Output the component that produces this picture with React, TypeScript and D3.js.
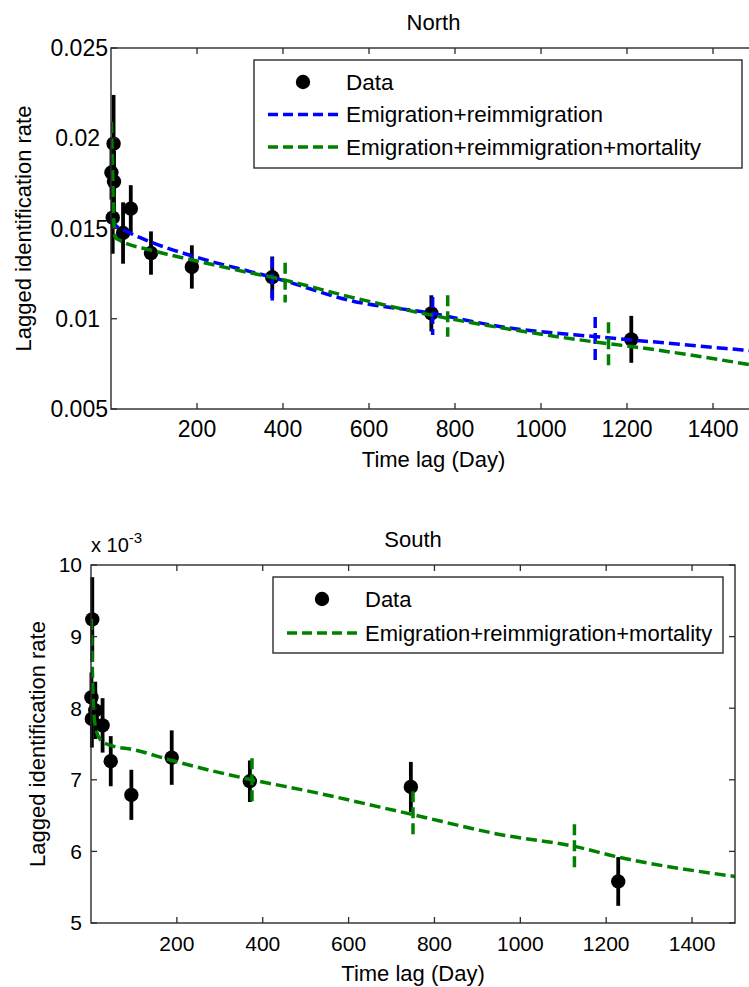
import React from "react";
import * as d3 from "d3";

// ---------- North panel data ----------
const northDays = [6, 1, 7, 4, 46, 28, 93, 188, 375, 745, 1210];
const northRates = [0.0197, 0.0181, 0.0176, 0.0156, 0.0161, 0.01475, 0.01364, 0.01287, 0.0123, 0.0103, 0.00886];
const northErrors = [0.0027, 0.0015, 0.0017, 0.002, 0.0013, 0.0017, 0.0012, 0.0012, 0.00115, 0.001, 0.0013];

const northBlueDays = [1, 10, 40, 93, 200, 326, 375, 558, 745, 907, 1130, 1214, 1500];
const northBlueRates = [0.0155, 0.0152, 0.0148, 0.01425, 0.0134, 0.0126, 0.0123, 0.011, 0.0103, 0.00956, 0.009, 0.00882, 0.0082];
const northBlueSpikes = [
  [375, 0.011, 0.0134],
  [748, 0.0091, 0.0112],
  [1126, 0.0077, 0.0101],
];

const northGreenDays = [1, 3, 5, 7, 10, 20, 93, 200, 326, 375, 558, 745, 907, 1130, 1214, 1500];
const northGreenRates = [0.0209, 0.019, 0.0168, 0.0152, 0.0145, 0.01435, 0.0138, 0.0132, 0.01253, 0.0123, 0.0112, 0.0102, 0.0095, 0.0087, 0.00845, 0.0074];
const northGreenSpikes = [
  [405, 0.0109, 0.0131],
  [783, 0.009, 0.0113],
  [1157, 0.0073, 0.0098],
];

const northYTicks = [0.005, 0.01, 0.015, 0.02, 0.025];
const northYLabels = ["0.005", "0.01", "0.015", "0.02", "0.025"];
const xTicks = [200, 400, 600, 800, 1000, 1200, 1400];
const northLegend = ["Data", "Emigration+reimmigration", "Emigration+reimmigration+mortality"];

// ---------- South panel data (x 10^-3) ----------
const southDays = [3, 1, 10, 2, 27, 46, 94, 188, 370, 745, 1228];
const southRates = [9.24, 8.15, 7.97, 7.85, 7.76, 7.26, 6.79, 7.31, 6.98, 6.9, 5.58];
const southErrors = [0.59, 0.35, 0.4, 0.4, 0.38, 0.35, 0.35, 0.38, 0.29, 0.35, 0.34];

const southGreenDays = [1, 3, 6, 10, 22, 46, 100, 188, 300, 375, 500, 745, 958, 1126, 1229, 1500];
const southGreenRates = [9.25, 8.6, 8.0, 7.75, 7.56, 7.48, 7.42, 7.27, 7.1, 7.0, 6.85, 6.52, 6.23, 6.07, 5.92, 5.65];
const southGreenSpikes = [
  [375, 6.7, 7.3],
  [750, 6.2, 6.84],
  [1126, 5.74, 6.38],
];

const southYTicks = [5, 6, 7, 8, 9, 10];
const southYLabels = ["5", "6", "7", "8", "9", "10"];
const southLegend = ["Data", "Emigration+reimmigration+mortality"];

const BLUE = "#0000ff";
const GREEN = "#008000";
const AXIS = "#2b2b2b";
const FONT = "'Liberation Sans', Arial, sans-serif";

type Series = { days: number[]; vals: number[]; spikes: number[][]; color: string };

function Panel(props: {
  left: number; right: number; top: number; bottom: number;
  yDomain: [number, number];
  yTicks: number[]; yLabels: string[];
  tickFont: number;
  title: string;
  dDays: number[]; dVals: number[]; dErr: number[];
  series: Series[];
  legend: string[];
  legendBox: [number, number, number, number];
  legendRow: number;
  legendFont: number;
  ylabelX: number;
  yLabelPad: (s: string) => number;
  exponent?: boolean;
  clipId: string;
}) {
  const { left, right, top, bottom } = props;
  const x = d3.scaleLinear().domain([0, 1500]).range([left, right]);
  const y = d3.scaleLinear().domain(props.yDomain).range([bottom, top]);
  const line = d3
    .line<[number, number]>()
    .x((d) => x(d[0]))
    .y((d) => y(d[1]))
    .curve(d3.curveMonotoneX);
  const tl = 6;
  const [lx0, ly0, lx1, ly1] = props.legendBox;
  const legendColors = props.series.map((s) => s.color);
  const dash = "11,5";
  return (
    <g>
      <defs>
        <clipPath id={props.clipId}>
          <rect x={left} y={top} width={right - left} height={bottom - top} />
        </clipPath>
      </defs>
      <text x={(left + right) / 2} y={top - 18} textAnchor="middle" fontSize={22} fontFamily={FONT}>
        {props.title}
      </text>
      {props.exponent && (
        <text x={left} y={top - 13} fontSize={20} fontFamily={FONT}>
          x 10
          <tspan dy={-9} fontSize={15}>-3</tspan>
        </text>
      )}
      {/* data */}
      <g>
        {props.dDays.map((d, i) => (
          <line key={"e" + i} x1={x(d)} x2={x(d)} y1={y(props.dVals[i] - props.dErr[i])} y2={y(props.dVals[i] + props.dErr[i])} stroke="#000" strokeWidth={3.8} />
        ))}
        {props.dDays.map((d, i) => (
          <circle key={"c" + i} cx={x(d)} cy={y(props.dVals[i])} r={7.2} fill="#000" />
        ))}
      </g>
      <g clipPath={`url(#${props.clipId})`}>
        {props.series.map((s, si) => (
          <g key={"s" + si}>
            <path
              d={line(s.days.map((d, i) => [d, s.vals[i]] as [number, number])) || ""}
              fill="none"
              stroke={s.color}
              strokeWidth={3.5}
              strokeDasharray={dash}
            />
            {s.spikes.map((sp, k) => (
              <line key={k} x1={x(sp[0])} x2={x(sp[0])} y1={y(sp[2])} y2={y(sp[1])} stroke={s.color} strokeWidth={3.5} strokeDasharray={dash} />
            ))}
          </g>
        ))}
      </g>
      {/* axes box */}
      <rect x={left} y={top} width={right - left} height={bottom - top} fill="none" stroke={AXIS} strokeWidth={1.4} />
      {xTicks.map((t) => (
        <g key={"xt" + t}>
          <line x1={x(t)} x2={x(t)} y1={bottom} y2={bottom - tl} stroke={AXIS} strokeWidth={1.3} />
          <line x1={x(t)} x2={x(t)} y1={top} y2={top + tl} stroke={AXIS} strokeWidth={1.3} />
          <text x={x(t)} y={bottom + 28} textAnchor="middle" fontSize={props.tickFont} fontFamily={FONT}>
            {t}
          </text>
        </g>
      ))}
      {props.yTicks.map((t, i) => (
        <g key={"yt" + t}>
          <line x1={left} x2={left + tl} y1={y(t)} y2={y(t)} stroke={AXIS} strokeWidth={1.3} />
          <line x1={right} x2={right - tl} y1={y(t)} y2={y(t)} stroke={AXIS} strokeWidth={1.3} />
          <text x={left - props.yLabelPad(props.yLabels[i])} y={y(t)} dy="0.35em" textAnchor="end" fontSize={props.tickFont} fontFamily={FONT}>
            {props.yLabels[i]}
          </text>
        </g>
      ))}
      <text x={(left + right) / 2} y={bottom + 58} textAnchor="middle" fontSize={22} fontFamily={FONT}>
        Time lag (Day)
      </text>
      <text
        transform={`translate(${props.ylabelX},${(top + bottom) / 2}) rotate(-90)`}
        textAnchor="middle"
        dy="0.35em"
        fontSize={22}
        fontFamily={FONT}
      >
        Lagged identification rate
      </text>
      {/* legend */}
      <rect x={lx0} y={ly0} width={lx1 - lx0} height={ly1 - ly0} fill="#fff" stroke={AXIS} strokeWidth={1.4} />
      {props.legend.map((label, i) => {
        const cy = ly0 + 22 + i * props.legendRow;
        return (
          <g key={"lg" + i}>
            {i === 0 ? (
              <circle cx={lx0 + 49} cy={cy} r={7.2} fill="#000" />
            ) : (
              <line x1={lx0 + 14} x2={lx0 + 84} y1={cy} y2={cy} stroke={legendColors[i - 1]} strokeWidth={3.5} strokeDasharray="10,5" />
            )}
            <text x={lx0 + 92} y={cy} dy="0.35em" fontSize={props.legendFont} fontFamily={FONT}>
              {label}
            </text>
          </g>
        );
      })}
    </g>
  );
}

export default function App() {
  return (
    <svg width={749} height={987} style={{ position: "absolute", left: 0, top: 0, background: "#fff" }}>
      <rect width={749} height={987} fill="#fff" />
      <Panel
        left={111}
        right={756}
        top={48}
        bottom={409}
        yDomain={[0.005, 0.025]}
        yTicks={northYTicks}
        yLabels={northYLabels}
        tickFont={23}
        title="North"
        dDays={northDays}
        dVals={northRates}
        dErr={northErrors}
        series={[
          { days: northBlueDays, vals: northBlueRates, spikes: northBlueSpikes, color: BLUE },
          { days: northGreenDays, vals: northGreenRates, spikes: northGreenSpikes, color: GREEN },
        ]}
        legend={northLegend}
        legendBox={[254, 60, 742, 168]}
        legendRow={32.5}
        legendFont={22.5}
        ylabelX={23}
        yLabelPad={(s) => (s.length < 5 ? 11 : 3)}
        clipId="clipN"
      />
      <Panel
        left={91}
        right={735}
        top={565}
        bottom={923}
        yDomain={[5, 10]}
        yTicks={southYTicks}
        yLabels={southYLabels}
        tickFont={21}
        title="South"
        dDays={southDays}
        dVals={southRates}
        dErr={southErrors}
        series={[{ days: southGreenDays, vals: southGreenRates, spikes: southGreenSpikes, color: GREEN }]}
        legend={southLegend}
        legendBox={[273, 577, 723, 653]}
        legendRow={34}
        legendFont={22}
        ylabelX={37}
        yLabelPad={() => 9}
        exponent
        clipId="clipS"
      />
    </svg>
  );
}
